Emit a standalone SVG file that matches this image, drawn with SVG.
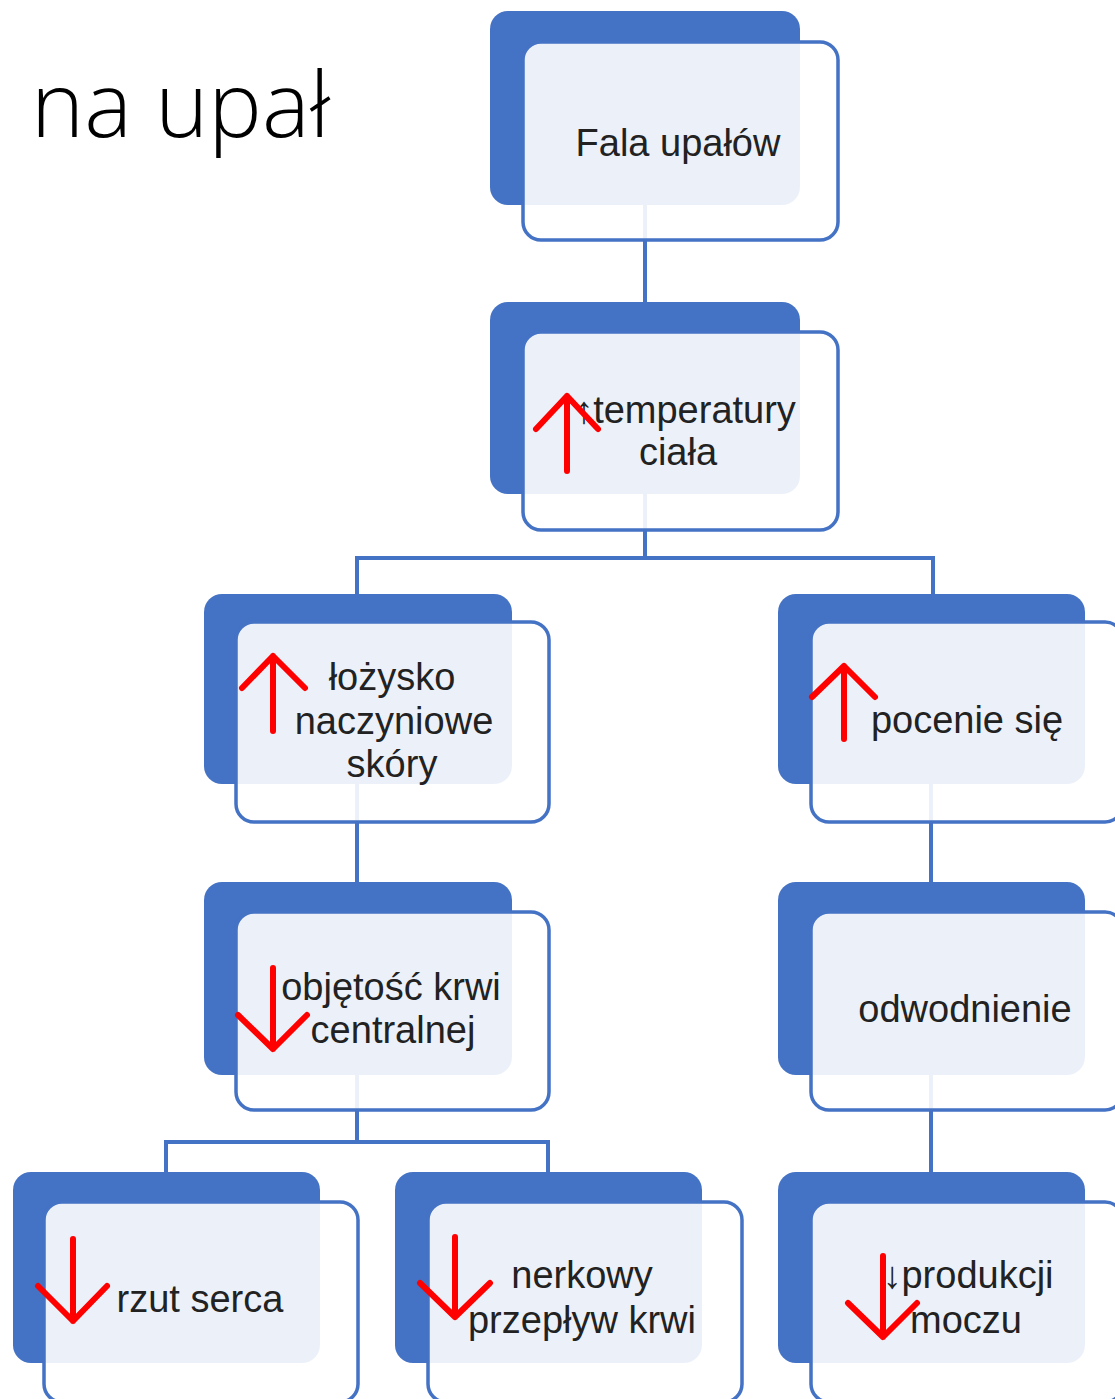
<svg xmlns="http://www.w3.org/2000/svg" width="1115" height="1399" viewBox="0 0 1115 1399">
<style>
.back{fill:#4472C4;}
.front{fill:#ffffff;fill-opacity:0.9;stroke:#4472C4;stroke-width:3.5;}
.lbl{font-family:"Liberation Sans",Arial,sans-serif;font-size:38px;fill:#222222;text-anchor:middle;}
.red{fill:none;stroke:#FF0000;stroke-width:6;stroke-linecap:round;stroke-linejoin:round;}
.conn{fill:none;stroke:#4472C4;stroke-width:4;}
.title{font-family:"Open Sans","Liberation Sans",sans-serif;font-weight:300;font-size:90px;fill:#000000;}
</style>
<rect width="1115" height="1399" fill="#ffffff"/>
<text class="title" x="31" y="137">na upał</text>
<g id="connectors">
<path class="conn" d="M645,205 V302"/>
<path class="conn" d="M645,494 V558 M357,594 V558 H933 V594"/>
<path class="conn" d="M357,784 V882"/>
<path class="conn" d="M931,784 V882"/>
<path class="conn" d="M357,1075 V1142 M166,1172 V1142 H548 V1172"/>
<path class="conn" d="M931,1075 V1172"/>
</g>
<g id="node-fala">
<rect class="back" x="490" y="11" width="310" height="194" rx="18"/>
<rect class="front" x="523" y="42" width="315" height="198" rx="18"/>
<text class="lbl" x="678" y="156">Fala upałów</text>
</g>
<g id="node-temperatura">
<rect class="back" x="490" y="302" width="310" height="192" rx="18"/>
<rect class="front" x="523" y="332" width="315" height="198" rx="18"/>
<text class="lbl" x="685" y="423">↑temperatury</text>
<text class="lbl" x="678" y="465">ciała</text>
<path class="red" d="M567,471 V396 M536,429 L567,396 L598,429"/>
</g>
<g id="node-lozysko">
<rect class="back" x="204" y="594" width="308" height="190" rx="18"/>
<rect class="front" x="236" y="622" width="313" height="200" rx="18"/>
<text class="lbl" x="392" y="690">łożysko</text>
<text class="lbl" x="394" y="734">naczyniowe</text>
<text class="lbl" x="392" y="777">skóry</text>
<path class="red" d="M273,731 V656 M242,688 L273,656 L305,688"/>
</g>
<g id="node-pocenie">
<rect class="back" x="778" y="594" width="307" height="190" rx="18"/>
<rect class="front" x="811" y="622" width="312" height="200" rx="18"/>
<text class="lbl" x="967" y="733">pocenie się</text>
<path class="red" d="M844,739 V666 M812,697 L844,666 L875,697"/>
</g>
<g id="node-objetosc">
<rect class="back" x="204" y="882" width="308" height="193" rx="18"/>
<rect class="front" x="236" y="912" width="313" height="198" rx="18"/>
<text class="lbl" x="391" y="1000">objętość krwi</text>
<text class="lbl" x="393" y="1043">centralnej</text>
<path class="red" d="M273,968 V1049 M238,1015 L273,1049 L307,1015"/>
</g>
<g id="node-odwodnienie">
<rect class="back" x="778" y="882" width="307" height="193" rx="18"/>
<rect class="front" x="811" y="912" width="312" height="198" rx="18"/>
<text class="lbl" x="965" y="1022">odwodnienie</text>
</g>
<g id="node-rzut">
<rect class="back" x="13" y="1172" width="307" height="191" rx="18"/>
<rect class="front" x="44" y="1202" width="314" height="200" rx="18"/>
<text class="lbl" x="200" y="1312">rzut serca</text>
<path class="red" d="M73,1239 V1321 M38,1286 L73,1321 L107,1286"/>
</g>
<g id="node-nerkowy">
<rect class="back" x="395" y="1172" width="307" height="191" rx="18"/>
<rect class="front" x="428" y="1202" width="314" height="200" rx="18"/>
<text class="lbl" x="582" y="1288">nerkowy</text>
<text class="lbl" x="582" y="1333">przepływ krwi</text>
<path class="red" d="M455,1237 V1317 M420,1283 L455,1317 L490,1283"/>
</g>
<g id="node-produkcja">
<rect class="back" x="778" y="1172" width="307" height="191" rx="18"/>
<rect class="front" x="811" y="1202" width="312" height="200" rx="18"/>
<text class="lbl" x="968" y="1288">↓produkcji</text>
<text class="lbl" x="966" y="1333">moczu</text>
<path class="red" d="M883,1256 V1337 M848,1303 L883,1337 L917,1303"/>
</g>
</svg>
